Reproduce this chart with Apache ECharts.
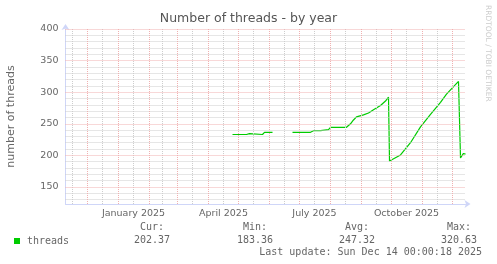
<!DOCTYPE html>
<html><head><meta charset="utf-8">
<script src="https://cdn.jsdelivr.net/npm/echarts@6/dist/echarts.min.js"></script>
<style>html,body{margin:0;padding:0;background:#fff}#c{width:497px;height:264px}</style>
</head><body><div id="c"></div>
<script>
const titleText = 'Number of threads - by year';
const yAxisName = 'number of threads';
const watermark = 'RRDTOOL / TOBI OETIKER';
const seriesName = 'threads';
const xRange = ['2024-11-09', '2025-12-14'];
const yRange = [123, 400];
const yTickLabels = [150, 200, 250, 300, 350, 400];
const yMinorGrid = [130, 140, 160, 170, 180, 190, 210, 220, 230, 240, 260, 270, 280, 290, 310, 320, 330, 340, 360, 370, 380, 390];
const xMajorGrid = ['2024-12-01', '2025-01-01', '2025-02-01', '2025-03-01', '2025-04-01', '2025-05-01', '2025-06-01', '2025-07-01', '2025-08-01', '2025-09-01', '2025-10-01', '2025-11-01', '2025-12-01'];
const xMinorGrid = ['2024-11-16', '2024-12-16', '2025-01-16', '2025-02-14', '2025-03-16', '2025-04-16', '2025-05-16', '2025-06-16', '2025-07-16', '2025-08-16', '2025-09-16', '2025-10-16', '2025-11-16'];
const xLabelDates = ['2025-01-16', '2025-04-16', '2025-07-16', '2025-10-16'];
const xLabels = ['January 2025', 'April 2025', 'July 2025', 'October 2025'];
const dates = ['2025-04-25', '2025-05-05', '2025-05-07', '2025-05-09', '2025-05-12', '2025-05-14', '2025-05-25', '2025-05-27', '2025-05-30', '2025-05-31', '2025-06-02', '2025-06-04', '2025-06-05',
  '2025-06-24', '2025-07-08', '2025-07-10', '2025-07-12', '2025-07-14', '2025-07-15', '2025-07-22', '2025-07-24', '2025-07-30', '2025-08-01', '2025-08-17', '2025-08-21', '2025-08-24', '2025-08-27',
  '2025-09-03', '2025-09-08', '2025-09-13', '2025-09-20', '2025-09-25', '2025-09-28', '2025-09-29', '2025-10-01', '2025-10-10', '2025-10-20', '2025-10-30', '2025-11-09', '2025-11-19', '2025-11-25',
  '2025-12-07', '2025-12-08', '2025-12-09', '2025-12-12', '2025-12-14'];
const values = [233, 233, 234.5, 233, 234.5, 233, 233, 236.5, 236.5, 239, 236.5, 236.5, null,
  236.5, 236.5, 239, 236.5, 236.5, 239, 239, 240.5, 240.7, 244.4, 244.4, 250, 256, 261,
  264, 267, 272, 279, 286, 292, 191, 190, 200.6, 220, 245, 265, 284, 297,
  317, 318, 196, 203, 202];
const statLabels = ['Cur:', 'Min:', 'Avg:', 'Max:'];
const statValues = ['202.37', '183.36', '247.32', '320.63'];
const lastUpdate = 'Last update: Sun Dec 14 00:00:18 2025';

const ts = d => new Date(d + 'T00:00:00').getTime();
const xLabelTs = xLabelDates.map(ts);
const GRID_GREY = '#cdcdcd', GRID_RED = '#f0b0b0', AXIS = '#cfd6f8', FONT = '#666666';

const gridLines = [];
yMinorGrid.forEach(v => gridLines.push({ yAxis: v, lineStyle: { color: GRID_GREY, type: [1, 1], width: 1 } }));
xMinorGrid.forEach(d => gridLines.push({ xAxis: ts(d), lineStyle: { color: GRID_GREY, type: [1, 1], width: 1 } }));
yTickLabels.forEach(v => gridLines.push({ yAxis: v, lineStyle: { color: GRID_RED, type: [1, 1], width: 1 } }));
xMajorGrid.forEach(d => gridLines.push({ xAxis: ts(d), lineStyle: { color: GRID_RED, type: [1, 1], width: 1 } }));

const statX = [140, 243, 345, 447];
const valX = [134, 237, 339, 441];
const graphics = [
  { type: 'text', x: 248.5, y: 19, style: { text: titleText, textAlign: 'center', textVerticalAlign: 'middle', fontFamily: 'DejaVu Sans', fontSize: 12.5, fill: '#555' } },
  { type: 'text', x: 11.5, y: 116.5, rotation: Math.PI / 2, style: { text: yAxisName, textAlign: 'center', textVerticalAlign: 'middle', fontFamily: 'DejaVu Sans', fontSize: 11, fill: FONT } },
  { type: 'text', x: 488, y: 5, rotation: -Math.PI / 2, style: { text: watermark, textAlign: 'left', textVerticalAlign: 'middle', fontFamily: 'DejaVu Sans', fontSize: 7.5, fill: '#cccccc' } },
  { type: 'text', x: 482, y: 252, style: { text: lastUpdate, textAlign: 'right', textVerticalAlign: 'middle', fontFamily: 'DejaVu Sans Mono', fontSize: 10, fill: FONT } }
];
statLabels.forEach((t, i) => graphics.push({ type: 'text', x: statX[i], y: 227, style: { text: t, textAlign: 'left', textVerticalAlign: 'middle', fontFamily: 'DejaVu Sans Mono', fontSize: 10, fill: FONT } }));
statValues.forEach((t, i) => graphics.push({ type: 'text', x: valX[i], y: 240, style: { text: t, textAlign: 'left', textVerticalAlign: 'middle', fontFamily: 'DejaVu Sans Mono', fontSize: 10, fill: FONT } }));

const chart = echarts.init(document.getElementById('c'), null, { renderer: 'canvas' });
chart.setOption({
  animation: false,
  backgroundColor: '#ffffff',
  grid: { left: 65.5, right: 31.5, top: 29, bottom: 60, containLabel: false },
  legend: {
    data: [seriesName], left: 9, top: 231, icon: 'rect', itemWidth: 6, itemHeight: 6,
    textStyle: { fontFamily: 'DejaVu Sans Mono', fontSize: 10, color: FONT, padding: [0, 0, 0, 2] }
  },
  xAxis: {
    type: 'value', min: ts(xRange[0]), max: ts(xRange[1]),
    axisLine: { show: true, lineStyle: { color: AXIS, width: 1 }, symbol: ['none', 'arrow'], symbolSize: [6, 6], symbolOffset: [0, 5] },
    axisTick: { show: false },
    splitLine: { show: false },
    axisLabel: {
      customValues: xLabelTs, margin: 5, fontFamily: 'DejaVu Sans', fontSize: 9.5, color: FONT,
      formatter: v => { let best = -1, bd = Infinity; xLabelTs.forEach((t, i) => { const d = Math.abs(t - v); if (d < bd) { bd = d; best = i; } }); return bd < 86400000 * 3 ? xLabels[best] : ''; }
    }
  },
  yAxis: {
    type: 'value', min: yRange[0], max: yRange[1],
    axisLine: { show: true, lineStyle: { color: AXIS, width: 1 }, symbol: ['none', 'arrow'], symbolSize: [6, 6], symbolOffset: [0, 5] },
    axisTick: { show: false },
    splitLine: { show: false },
    axisLabel: { customValues: yTickLabels, margin: 7, fontFamily: 'DejaVu Sans', fontSize: 9.5, color: FONT }
  },
  series: [
    { type: 'line', name: 'grid', data: [], z: 1, silent: true, legendHoverLink: false,
      markLine: { silent: true, symbol: ['none', 'none'], label: { show: false }, animation: false, data: gridLines } },
    { type: 'line', name: seriesName, z: 3, showSymbol: false, connectNulls: false,
      itemStyle: { color: '#00cc00' }, lineStyle: { color: '#00cc00', width: 1.2 },
      data: dates.map((d, i) => [ts(d), values[i]]) }
  ],
  graphic: graphics
});
</script></body></html>
